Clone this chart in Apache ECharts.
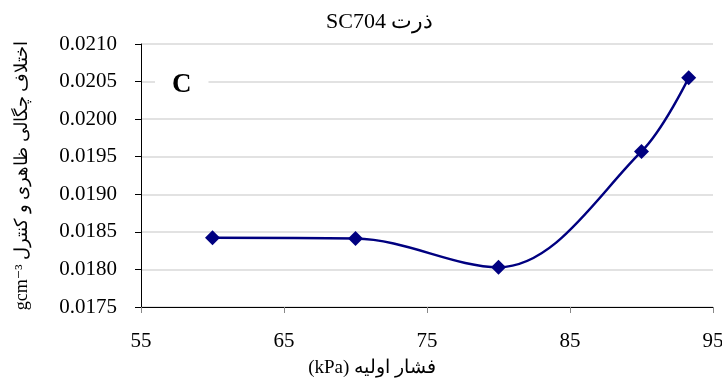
<!DOCTYPE html>
<html>
<head>
<meta charset="utf-8">
<script src="https://cdn.jsdelivr.net/npm/echarts@6/dist/echarts.min.js"></script>
<style>
  html, body { margin: 0; padding: 0; background: #fff; }
  #chart { width: 722px; height: 381px; }
</style>
</head>
<body>
<div id="chart"></div>
<script>
// Initial pressure (kPa)
const pressure = [60, 70, 80, 90, 93.3];
// Bulk density difference vs. control (g cm^-3)
const densityDiff = [0.01842, 0.01841, 0.01803, 0.01957, 0.02055];
const xTicks = [55, 65, 75, 85, 95];
const yTicks = [0.0175, 0.0180, 0.0185, 0.0190, 0.0195, 0.0200, 0.0205, 0.0210];

const serif = '"Liberation Serif", "DejaVu Serif", serif';
const chart = echarts.init(document.getElementById('chart'), null, { renderer: 'canvas' });

chart.setOption({
  animation: false,
  backgroundColor: '#ffffff',
  title: {
    text: 'SC704 ذرت',
    left: 321,
    top: 6,
    textStyle: { fontFamily: serif, fontSize: 22, fontWeight: 'normal', color: '#000' }
  },
  grid: { left: 141, right: 9, top: 44, bottom: 74, outerBoundsMode: 'none', containLabel: false },
  xAxis: {
    type: 'value',
    min: 55,
    max: 95,
    name: '(kPa) فشار اولیه',
    nameLocation: 'middle',
    nameGap: 52,
    nameTextStyle: { fontFamily: serif, fontSize: 19, color: '#000', padding: [0, 110, 0, 0] },
    axisLine: { show: true, onZero: false, lineStyle: { color: '#000', width: 1 } },
    axisTick: { show: true, customValues: xTicks, length: 6, lineStyle: { color: '#888' } },
    axisLabel: {
      customValues: xTicks,
      margin: 24,
      fontFamily: serif, fontSize: 21, color: '#000'
    },
    splitLine: { show: false }
  },
  yAxis: {
    type: 'value',
    min: yTicks[0],
    max: yTicks[yTicks.length - 1],
    interval: 0.0005,
    name: 'gcm⁻³ اختلاف چگالی ظاهری و کنترل',
    nameLocation: 'middle',
    nameRotate: 90,
    nameGap: 110,
    nameTextStyle: { fontFamily: serif, fontSize: 18, color: '#000' },
    axisLine: { show: true, onZero: false, lineStyle: { color: '#000', width: 1 } },
    axisTick: { show: true, length: 6, lineStyle: { color: '#000' } },
    axisLabel: {
      margin: 24,
      fontFamily: serif, fontSize: 21, color: '#000',
      formatter: v => v.toFixed(4)
    },
    splitLine: { show: true, lineStyle: { color: '#d9d9d9', width: 1.5 } }
  },
  graphic: [{
    type: 'text',
    left: 155,
    top: 70,
    z: 10,
    style: {
      text: 'C',
      fontFamily: serif,
      fontSize: 27,
      fontWeight: 'bold',
      fill: '#000',
      backgroundColor: '#fff',
      padding: [2, 17, 2, 17]
    }
  }],
  series: [{
    type: 'line',
    data: pressure.map((x, i) => [x, densityDiff[i]]),
    smooth: 0.35,
    symbol: 'diamond',
    symbolSize: 15,
    lineStyle: { color: '#000080', width: 2.5 },
    itemStyle: { color: '#000080' }
  }]
});
</script>
</body>
</html>
